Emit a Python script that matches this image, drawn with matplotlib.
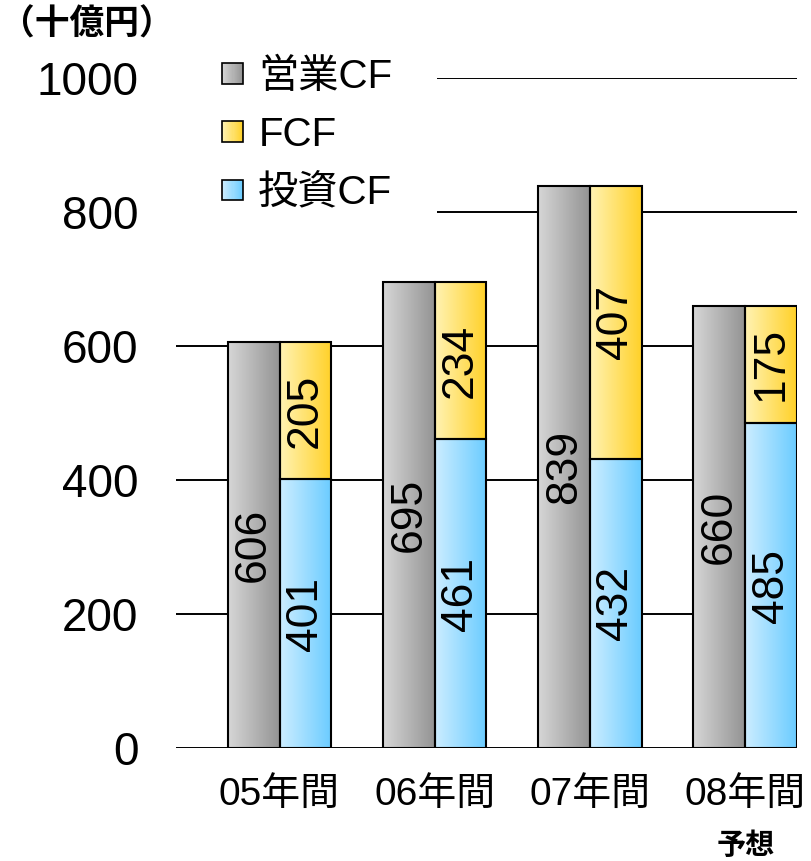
import numpy as np
import matplotlib
matplotlib.use("Agg")
import matplotlib.pyplot as plt
from matplotlib.patches import Patch, Rectangle
from matplotlib.legend_handler import HandlerBase

plt.rcParams['font.family'] = ['Liberation Sans', 'Noto Sans CJK JP']

# データ（十億円）
categories = ['05年間', '06年間', '07年間', '08年間']
operating = [606, 695, 839, 660]   # 営業CF
investing = [401, 461, 432, 485]   # 投資CF
fcf = [205, 234, 407, 175]         # FCF
yticks = [0, 200, 400, 600, 800, 1000]

GRAY = ((0.84, 0.84, 0.84), (0.58, 0.58, 0.58))
YELLOW = ((1.0, 0.95, 0.70), (1.0, 0.82, 0.16))
BLUE = ((0.80, 0.93, 1.0), (0.42, 0.80, 1.0))


def grad_img(c0, c1, n=64):
    t = np.linspace(0, 1, n)[None, :, None]
    return np.array(c0)[None, None, :] * (1 - t) + np.array(c1)[None, None, :] * t


def fill_gradient(ax, bars, cols):
    for b in bars:
        x0, y0 = b.get_x(), b.get_y()
        w, h = b.get_width(), b.get_height()
        im = ax.imshow(grad_img(*cols), extent=[x0, x0 + w, y0, y0 + h],
                       aspect='auto', zorder=2.5, interpolation='bilinear')
        im.set_clip_path(b)


class GradHandler(HandlerBase):
    def __init__(self, cols):
        super().__init__()
        self.cols = cols

    def create_artists(self, legend, orig_handle, xdescent, ydescent,
                       width, height, fontsize, trans):
        s = width
        x0 = -xdescent
        y0 = -ydescent + (height - s) / 2
        n = 20
        arts = []
        c0, c1 = np.array(self.cols[0]), np.array(self.cols[1])
        for i in range(n):
            t = i / (n - 1)
            r = Rectangle((x0 + s * i / n, y0), s / n + 0.05, s,
                          facecolor=c0 * (1 - t) + c1 * t, edgecolor='none',
                          transform=trans)
            arts.append(r)
        arts.append(Rectangle((x0, y0), s, s, facecolor='none',
                              edgecolor='black', lw=1.2, transform=trans))
        return arts


fig = plt.figure(figsize=(8.12, 8.61), dpi=100)
ax = fig.add_axes([176 / 812, 113 / 861, 621 / 812, 670 / 861])

x = np.arange(len(categories))
w = 1 / 3
b_op = ax.bar(x + 1 / 3, operating, width=w, align='edge',
              facecolor='none', edgecolor='black', lw=1.5, zorder=3)
b_inv = ax.bar(x + 2 / 3, investing, width=w, align='edge',
               facecolor='none', edgecolor='black', lw=1.5, zorder=3)
b_fcf = ax.bar(x + 2 / 3, fcf, width=w, bottom=investing, align='edge',
               facecolor='none', edgecolor='black', lw=1.5, zorder=3)

fill_gradient(ax, b_op, GRAY)
fill_gradient(ax, b_inv, BLUE)
fill_gradient(ax, b_fcf, YELLOW)

for bars in (b_op, b_inv, b_fcf):
    ax.bar_label(bars, label_type='center', rotation=90, fontsize=32, zorder=4)

ax.set_xlim(0, 4)
ax.set_ylim(0, 1000)
ax.set_yticks(yticks)
ax.set_yticklabels([str(v) for v in yticks], fontsize=33)
ax.set_xticks(x + 2 / 3)
ax.set_xticklabels(categories, fontsize=28)
ax.tick_params(axis='y', length=0, pad=27)
ax.tick_params(axis='x', length=0, pad=21)
ax.grid(axis='y', color='black', lw=1.4)
ax.set_axisbelow(True)
for sp in ax.spines.values():
    sp.set_visible(False)

# 凡例の背景（目盛線を隠す）
ax.add_patch(Rectangle((0, 0.78), 0.42, 0.24, transform=ax.transAxes,
                       facecolor='white', edgecolor='none', zorder=2,
                       clip_on=False))

handles = [Patch(label='営業CF'), Patch(label='FCF'), Patch(label='投資CF')]
hmap = {handles[0]: GradHandler(GRAY), handles[1]: GradHandler(YELLOW),
        handles[2]: GradHandler(BLUE)}
fig.legend(handles=handles, handler_map=hmap, loc='upper left',
           bbox_to_anchor=(222 / 812, 1 - 58 / 861), frameon=False,
           fontsize=29, handlelength=0.52, handleheight=0.52,
           handletextpad=0.38, labelspacing=0.5, borderpad=0,
           borderaxespad=0)

fig.text(0.0, 0.971, '（十億円）', fontsize=25, fontweight='bold',
         ha='left', va='center')
ax.text(3 + 2 / 3, -0.146, '予想', transform=ax.get_xaxis_transform(),
        fontsize=21, fontweight='bold', ha='center', va='center')

fig.savefig('out.png', dpi=100)
